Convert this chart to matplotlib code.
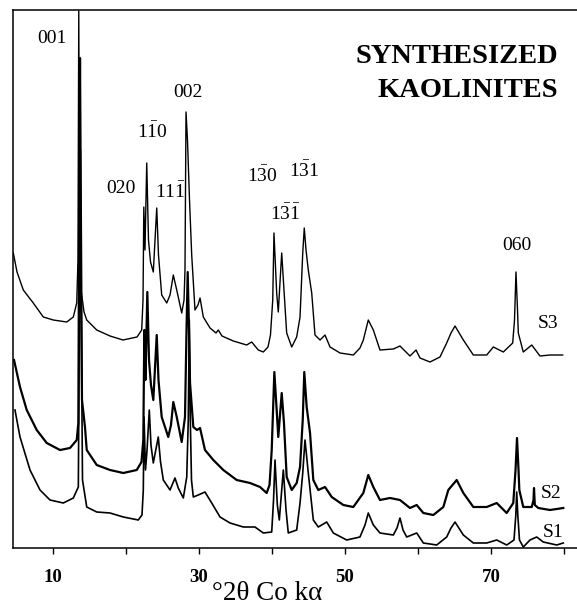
import matplotlib
matplotlib.use("Agg")
import matplotlib.pyplot as plt

plt.rcParams['font.family'] = ['Liberation Serif', 'DejaVu Serif']
plt.rcParams['mathtext.fontset'] = 'custom'
plt.rcParams['mathtext.rm'] = 'Liberation Serif'
plt.rcParams['mathtext.it'] = 'Liberation Serif:italic'
plt.rcParams['mathtext.bf'] = 'Liberation Serif:bold'

# ---- data: 2-theta (deg, Co K-alpha) and intensity (arbitrary, stacked) ----
s3_tt = [4.56, 5.07, 5.93, 7.30, 8.67, 10.04, 11.88, 12.78, 13.25, 13.42, 13.53, 13.64, 13.84, 14.25,
         14.62, 15.99, 17.81, 19.59, 21.51, 22.15, 22.33, 22.44, 22.60, 22.84, 23.08, 23.36, 23.74,
         24.21, 24.45, 24.89, 25.58, 26.03, 26.48, 26.95, 27.63, 27.95, 28.08, 28.22, 28.42, 28.70,
         29.00, 29.45, 29.86, 30.14, 30.59, 31.51, 32.33, 32.64, 33.15, 34.70, 36.53, 37.22, 38.12,
         38.81, 39.45, 39.79, 40.10, 40.27, 40.64, 40.86, 41.33, 41.64, 42.01, 42.70, 43.38, 43.84,
         44.21, 44.42, 44.66, 44.97, 45.44, 45.89, 46.58, 47.26, 47.95, 49.32, 51.14, 52.05, 52.51,
         53.19, 53.88, 54.79, 56.62, 57.53, 58.90, 59.73, 60.27, 61.64, 63.01, 63.93, 64.52, 65.07,
         66.21, 67.58, 69.41, 70.32, 71.69, 72.97, 73.22, 73.42, 73.63, 73.74, 74.42, 75.58, 76.71,
         78.08, 79.82]
s3_int = [295, 276, 258, 245, 231, 228, 226, 231, 245, 288, 537, 298, 258, 236,
          228, 218, 212, 208, 211, 218, 248, 341, 298, 385, 308, 286, 276,
          340, 293, 253, 245, 253, 273, 258, 235, 248, 278, 436, 408, 348,
          293, 238, 243, 250, 231, 220, 215, 218, 212, 207, 203, 206, 198,
          196, 201, 213, 248, 315, 255, 236, 295, 258, 215, 201, 211, 231,
          295, 320, 298, 278, 255, 213, 208, 213, 201, 195, 193, 200, 208,
          228, 218, 198, 199, 202, 192, 198, 190, 186, 191, 205, 215, 222,
          208, 193, 193, 201, 196, 205, 228, 276, 238, 215, 196, 203, 192,
          193, 193]

s2_tt = [4.66, 5.48, 6.40, 7.77, 9.14, 10.96, 12.33, 13.25, 13.47, 13.59, 13.70, 13.81, 13.97, 14.38,
         14.62, 15.99, 17.81, 19.63, 21.47, 22.12, 22.37, 22.51, 22.67, 22.92, 23.15, 23.42, 23.74,
         24.21, 24.45, 24.89, 25.79, 26.16, 26.48, 26.95, 27.63, 28.08, 28.29, 28.45, 28.63, 28.77,
         29.22, 29.73, 30.14, 30.82, 31.96, 33.33, 35.16, 36.99, 38.36, 39.27, 39.66, 39.96, 40.32,
         40.64, 40.86, 41.33, 41.64, 42.01, 42.70, 43.38, 43.84, 44.21, 44.42, 44.75, 45.21, 45.66,
         46.34, 47.26, 48.18, 49.77, 51.14, 52.51, 53.19, 53.88, 54.79, 56.16, 57.53, 58.90, 59.82,
         60.73, 62.10, 63.47, 64.15, 65.30, 66.21, 67.58, 69.41, 70.78, 72.15, 73.05, 73.36, 73.56,
         73.77, 73.88, 74.42, 75.58, 75.82, 75.89, 76.00, 76.48, 78.08, 79.90]
s2_int = [188, 161, 138, 118, 105, 98, 100, 108, 125, 348, 490, 348, 148, 121,
          98, 83, 78, 75, 78, 86, 108, 218, 168, 256, 188, 163, 148,
          213, 168, 131, 111, 123, 146, 131, 106, 131, 218, 276, 218, 165,
          121, 118, 120, 98, 88, 78, 68, 65, 61, 55, 63, 98, 176,
          138, 111, 155, 125, 71, 58, 65, 81, 128, 176, 141, 115, 68,
          58, 61, 51, 43, 41, 55, 73, 61, 48, 50, 48, 40, 43,
          35, 33, 41, 58, 68, 55, 41, 41, 45, 35, 45, 78, 110,
          78, 58, 41, 41, 48, 60, 43, 40, 38, 40]

s1_tt = [4.79, 5.48, 6.85, 8.22, 9.59, 11.41, 12.78, 13.47, 13.63, 13.74, 13.85, 14.04, 14.62, 15.99,
         17.81, 19.63, 21.68, 22.19, 22.37, 22.47, 22.67, 22.88, 23.19, 23.42, 23.74, 24.42, 24.73,
         25.11, 26.03, 26.71, 27.16, 27.85, 28.32, 28.53, 28.67, 28.81, 28.97, 29.22, 29.90, 30.82,
         31.74, 32.88, 34.25, 36.07, 37.67, 38.81, 39.96, 40.21, 40.41, 40.73, 41.00, 41.55, 41.92,
         42.23, 43.38, 43.84, 44.21, 44.52, 44.97, 45.66, 46.34, 47.49, 48.40, 50.23, 52.05, 52.74,
         53.19, 53.88, 54.79, 56.62, 57.12, 57.53, 57.95, 58.45, 59.82, 60.73, 62.56, 63.93, 64.52,
         65.07, 66.21, 67.58, 69.41, 70.78, 72.15, 73.15, 73.40, 73.52, 73.67, 73.90, 74.42, 75.34,
         76.26, 77.16, 79.00, 79.90]
s1_int = [138, 111, 78, 58, 48, 45, 50, 61, 248, 398, 248, 68, 41, 36,
          35, 31, 28, 33, 58, 131, 78, 98, 138, 103, 85, 111, 86,
          68, 58, 70, 60, 50, 71, 128, 228, 128, 68, 51, 53, 56,
          45, 31, 25, 21, 21, 15, 16, 48, 88, 43, 28, 78, 38,
          15, 18, 45, 75, 108, 75, 28, 21, 26, 15, 8, 11, 23,
          35, 23, 15, 13, 20, 30, 18, 11, 15, 5, 3, 11, 20,
          26, 13, 5, 5, 8, 3, 8, 33, 56, 33, 8, 1, 8,
          11, 6, 3, 5]

xticks_major = [10, 30, 50, 70]
xticks_minor = [20, 40, 60, 80]

fig = plt.figure(figsize=(5.77, 6.08), dpi=100)
ax = fig.add_axes([13/577, 60/608, 564/577, 538/608])

ax.plot(s3_tt, s3_int, color='black', lw=1.0)
ax.plot(s2_tt, s2_int, color='black', lw=1.6)
ax.plot(s1_tt, s1_int, color='black', lw=1.2)

ax.set_xlim(4.52, 81.78)
ax.set_ylim(0, 538)
ax.set_yticks([])
ax.spines['right'].set_visible(False)
for s in ['left', 'top', 'bottom']:
    ax.spines[s].set_linewidth(1.1)

ax.set_xticks(xticks_major)
ax.set_xticks(xticks_minor, minor=True)
ax.set_xticklabels([str(v) for v in xticks_major], fontsize=13.5, fontweight='bold')
ax.tick_params(axis='x', which='both', direction='out', length=4, width=1.0, pad=11)

fig.text(267/577, 1 - 600/608, '°2θ Co kα', fontsize=19.5, ha='center', va='baseline')

lab = dict(fontsize=14, ha='center', va='baseline')
ax.text(9.86, 505, '001', **lab)
ax.text(28.49, 451, '002', **lab)
ax.text(23.56, 410, r'1$\bar{\mathrm{1}}$0', **lab)
ax.text(19.32, 355, '020', **lab)
ax.text(26.03, 350, r'11$\bar{\mathrm{1}}$', **lab)
ax.text(38.63, 366, r'1$\bar{\mathrm{3}}$0', **lab)
ax.text(44.38, 371, r'1$\bar{\mathrm{3}}$1', **lab)
ax.text(41.78, 328, r'1$\bar{\mathrm{3}}\bar{\mathrm{1}}$', **lab)
ax.text(73.56, 298, '060', **lab)
ax.text(77.8, 220, 'S3', **lab)
ax.text(78.2, 50, 'S2', **lab)
ax.text(78.5, 11, 'S1', **lab)

ax.text(79.18, 485, 'SYNTHESIZED', fontsize=20.5, fontweight='bold', ha='right', va='baseline')
ax.text(79.18, 451, 'KAOLINITES', fontsize=20.5, fontweight='bold', ha='right', va='baseline')

fig.savefig('out.png', dpi=100)
